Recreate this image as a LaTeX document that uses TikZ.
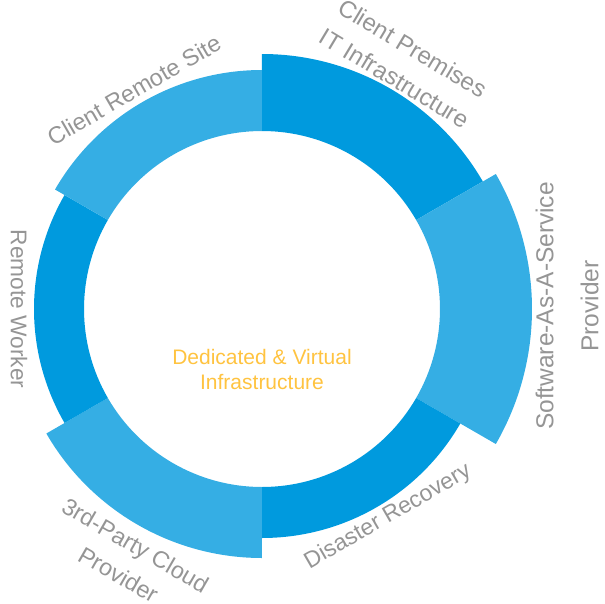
\documentclass[tikz,border=0pt]{standalone}
\usepackage{fontspec}
\setmainfont{Liberation Sans}
\definecolor{ringdark}{HTML}{009ADE}
\definecolor{ringlight}{HTML}{35AEE4}
\definecolor{labelgray}{HTML}{959595}
\definecolor{coreorange}{HTML}{FFC340}
\begin{document}
\begin{tikzpicture}[x=1pt,y=1pt,
  lbl/.style={text=labelgray, align=center, inner sep=0pt},
  core/.style={text=coreorange, align=center, inner sep=0pt,
    font=\fontsize{21}{25}\selectfont}]
\useasboundingbox (-262,-294) rectangle (343,309);
\def\rin{178}
% annular sector: #1 colour, #2 start angle, #3 end angle, #4 outer radius
\def\ringsector#1#2#3#4{%
  \fill[#1] (#2:\rin) arc[start angle=#2, end angle=#3, radius=\rin]
    -- (#3:#4) arc[start angle=#3, end angle=#2, radius=#4] -- cycle;}
\ringsector{ringdark}{30}{90}{255}
\ringsector{ringlight}{-30}{30}{270}
\ringsector{ringdark}{-90}{-30}{229}
\ringsector{ringlight}{210}{270}{249}
\ringsector{ringdark}{150}{210}{228}
\ringsector{ringlight}{90}{150}{239}

\node[lbl, rotate=-31, font=\fontsize{24}{35}\selectfont] (premises) at (142,246)
  {Client Premises\\IT Infrastructure};
\node[lbl, rotate=90, font=\fontsize{24.5}{45}\selectfont] (saas) at (305,3)
  {Software-As-A-Service\\Provider};
\node[lbl, rotate=30, font=\fontsize{23}{30}\selectfont] (recovery) at (126,-208)
  {Disaster Recovery};
\node[lbl, rotate=-30, font=\fontsize{23.5}{34}\selectfont] (cloud) at (-135,-251)
  {3rd-Party Cloud\\Provider};
\node[lbl, rotate=-90, font=\fontsize{22.7}{30}\selectfont] (worker) at (-243,0)
  {Remote Worker};
\node[lbl, rotate=30, font=\fontsize{23.5}{30}\selectfont] (remote) at (-128,219)
  {Client Remote Site};
\node[core] (centre) at (0,-60) {Dedicated \& Virtual\\Infrastructure};
\end{tikzpicture}
\end{document}
